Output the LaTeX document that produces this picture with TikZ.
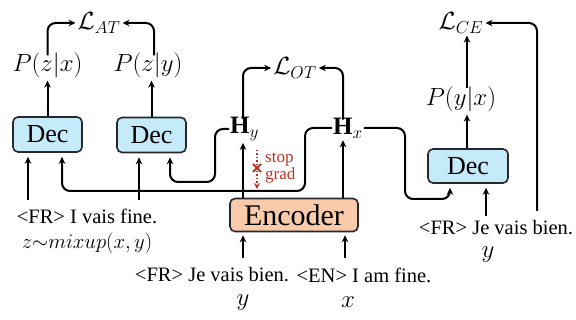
\documentclass[tikz,border=0pt]{standalone}
\usepackage{fontspec}
\setmainfont{Liberation Serif}
\usetikzlibrary{arrows.meta,calc}
\definecolor{decfill}{RGB}{197,234,249}
\definecolor{encfill}{RGB}{250,203,170}
\definecolor{boxline}{RGB}{40,40,40}
\definecolor{stopred}{RGB}{190,50,35}
\begin{document}
\begin{tikzpicture}[x=1pt,y=-1pt,
  arr/.style={line width=2pt,-{Stealth[length=7pt,width=6.5pt]},rounded corners=8pt},
  decbox/.style={draw=boxline,line width=1.6pt,fill=decfill,rounded corners=5pt,minimum width=69pt,minimum height=35pt,inner sep=0pt,font=\fontsize{26}{28}\selectfont},
  encbox/.style={draw=boxline,line width=1.6pt,fill=encfill,rounded corners=5pt,minimum width=128pt,minimum height=33pt,inner sep=0pt,font=\fontsize{30}{32}\selectfont},
  txt/.style={inner sep=0pt,font=\fontsize{20.5}{22}\selectfont},
  mth/.style={inner sep=0pt,font=\fontsize{24}{26}\selectfont},
  big/.style={inner sep=0pt,font=\fontsize{27}{28}\selectfont}]
\useasboundingbox (0,0) rectangle (576,320);
% boxes
\node[decbox] (dec1) at (47.5,134.5) {Dec};
\node[decbox] (dec2) at (151.5,135) {Dec};
\node[decbox,minimum width=80pt,minimum height=34pt] (dec3) at (468,166) {Dec};
\node[encbox] (enc) at (294,215) {Encoder};
% hidden states
\node[mth,font=\fontsize{25}{26}\selectfont,anchor=west] (hy) at (230,129) {$\mathbf{H}_y$};
\node[mth,font=\fontsize{25}{26}\selectfont,anchor=west] (hx) at (333,128) {$\mathbf{H}_x$};
% labels
\node[mth] (p1) at (47.5,65) {$P(z|x)$};
\node[mth] (p2) at (148,65) {$P(z|y)$};
\node[mth] (p3) at (461,99) {$P(y|x)$};
\node[mth,font=\fontsize{26}{28}\selectfont] (lat) at (99,23) {$\mathcal{L}_{AT}$};
\node[mth,font=\fontsize{26}{28}\selectfont] (lot) at (295,68) {$\mathcal{L}_{OT}$};
\node[mth,font=\fontsize{26}{28}\selectfont] (lce) at (461,23) {$\mathcal{L}_{CE}$};
% texts
\node[txt] (t1) at (87,216) {\textless FR\textgreater{} I vais fine.};
\node[mth,font=\fontsize{22.5}{24}\selectfont] (mix) at (87,243) {$z{\sim}mixup(x,y)$};
\node[txt] (t2) at (212,275) {\textless FR\textgreater{} Je vais bien.};
\node[txt] (t3) at (364,275) {\textless EN\textgreater{} I am fine.};
\node[txt] (t4) at (496,228) {\textless FR\textgreater{} Je vais bien.};
\node[big] (vy) at (243,303) {$y$};
\node[big] (vx) at (348,302) {$x$};
\node[big] (vy2) at (488,255) {$y$};
% coordinates
\coordinate (eHy) at (243,0);
\coordinate (eHx) at (343,0);
\coordinate (i1) at (28,200);
\coordinate (i2) at (139,200);
\coordinate (i3) at (486,216);
\coordinate (e1) at (243,258);
\coordinate (e2) at (345,258);
\coordinate (r1) at (537,211);
\coordinate (d2in) at (170,182);
\coordinate (d2k) at (215,182);
\coordinate (d1in) at (62,191);
\coordinate (d1k) at (305,191);
\coordinate (d3in) at (450,199);
\coordinate (d3k) at (405,199);
\coordinate (pc) at (467,0);
% inputs
\draw[arr,shorten >=4pt] (i1) -- (i1 |- dec1.south);
\draw[arr,shorten >=4pt] (i2) -- (i2 |- dec2.south);
\draw[arr,shorten >=4pt] (i3) -- (i3 |- dec3.south);
\draw[arr,shorten >=3pt] (e1) -- (e1 |- enc.south);
\draw[arr,shorten >=3pt] (e2) -- (e2 |- enc.south);
% encoder to H
\draw[arr,shorten >=2pt] (eHy |- enc.north) -- (eHy |- hy.south);
\draw[arr,shorten >=2pt] (eHx |- enc.north) -- (eHx |- hx.south);
% H to decoders
\draw[arr,shorten >=4pt] ([xshift=-1pt]hy.west) -| (d2k) -- (d2in) -- (d2in |- dec2.south);
\draw[arr,shorten >=4pt] ([xshift=-1pt]hx.west) -| (d1k) -- (d1in) -- (d1in |- dec1.south);
\draw[arr,shorten >=4pt] ([xshift=1pt]hx.east) -| (d3k) -- (d3in) -- (d3in |- dec3.south);
% decoders to P
\draw[arr,shorten >=3pt] (dec1.north) -- (p1.south);
\draw[arr,shorten >=3pt] (dec2.north) -- (dec2.north |- p2.south);
\draw[arr,shorten >=3pt] (pc |- dec3.north) -- (pc |- p3.south);
% to losses
\draw[arr,shorten >=2pt] ([yshift=-3pt]p1.north) |- (lat.west);
\draw[arr,shorten >=2pt] ([yshift=-3pt,xshift=6pt]p2.north) |- (lat.east);
\draw[arr,shorten >=2pt] ([yshift=-2pt]eHy |- hy.north) |- (lot.west);
\draw[arr,shorten >=2pt] ([yshift=-2pt]eHx |- hx.north) |- (lot.east);
\draw[arr,shorten >=2pt] ([yshift=-2pt]pc |- p3.north) -- (pc |- lce.south);
\draw[arr,shorten >=2pt] (r1) |- (lce.east);
% stop grad
\coordinate (sg1) at (257,150);
\coordinate (sg2) at (257,189);
\coordinate (sgx) at (257,168);
\draw[stopred,line width=1.5pt,dotted,-{Stealth[length=6pt,width=6pt]}] (sg1) -- (sg2);
\draw[stopred,line width=2pt] ([shift={(-4,-4)}]sgx) -- ([shift={(4,4)}]sgx)
  ([shift={(-4,4)}]sgx) -- ([shift={(4,-4)}]sgx);
\node[stopred,inner sep=0pt,anchor=west,align=left,font=\fontsize{17}{13.5}\selectfont] (sgt) at (265,168) {stop\\grad};
\end{tikzpicture}
\end{document}
